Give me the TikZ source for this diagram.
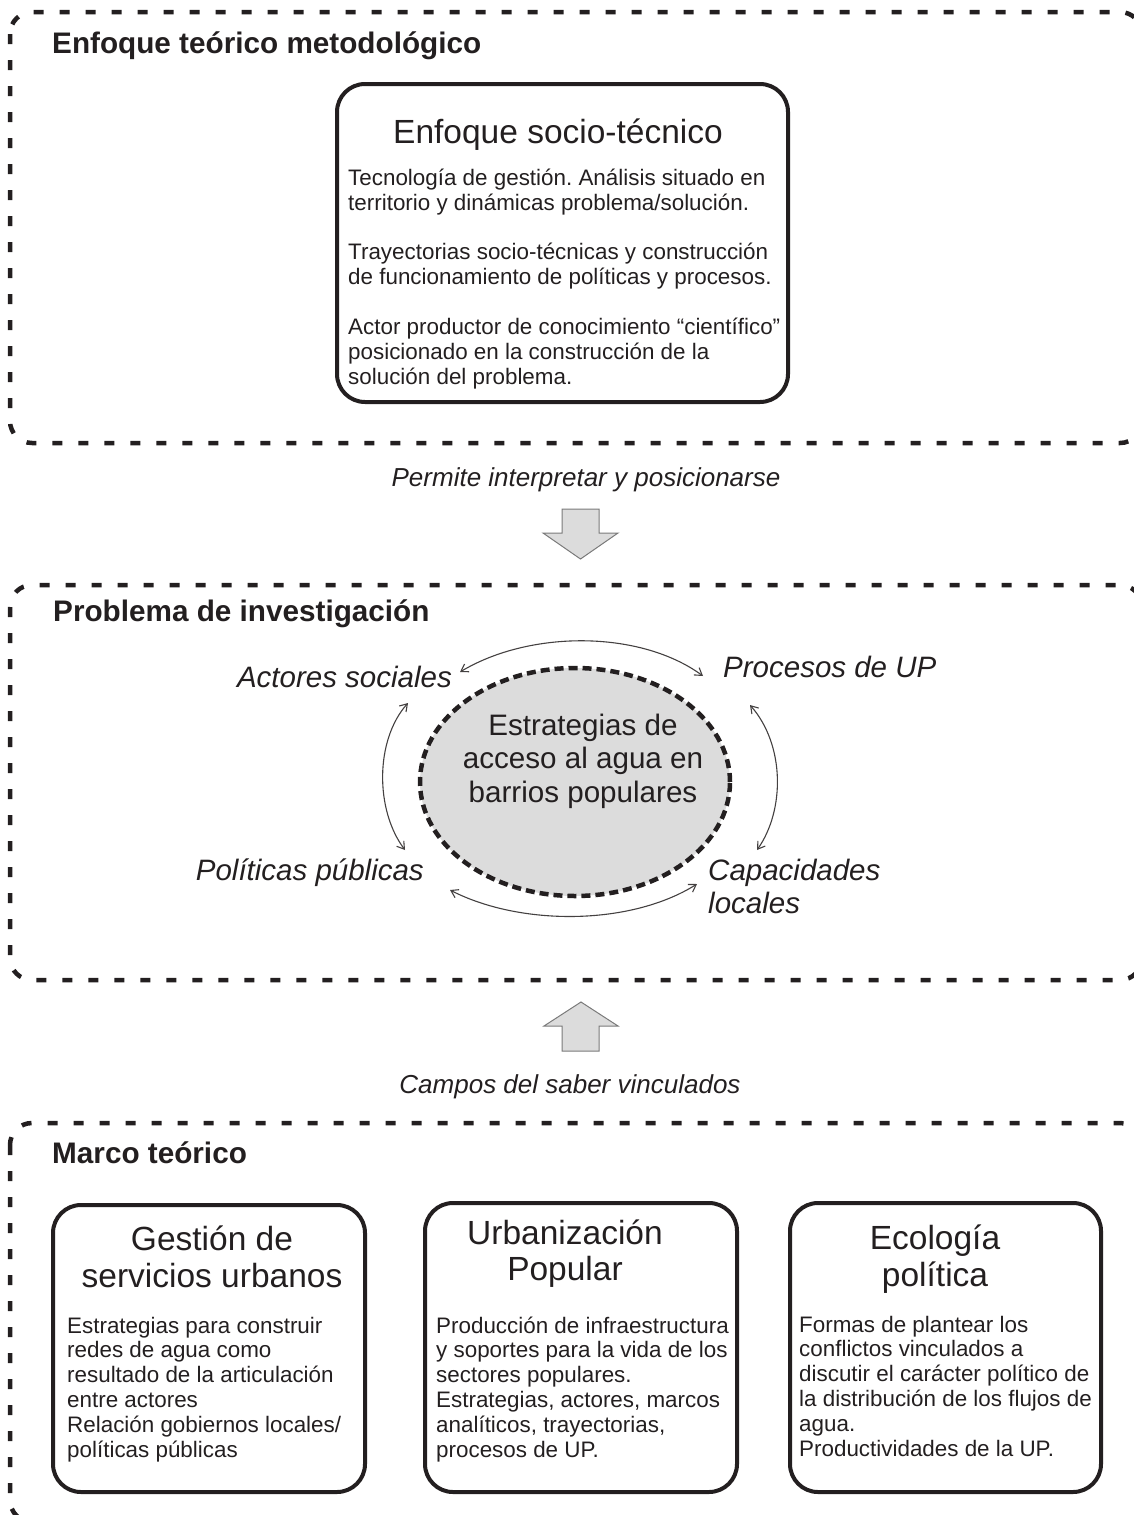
\documentclass[tikz,border=0pt]{standalone}
\usepackage{fontspec}
\setmainfont{Liberation Sans}
\usetikzlibrary{arrows.meta,shapes.geometric}
\definecolor{ink}{HTML}{231F20}
\definecolor{arrowfill}{HTML}{DCDCDC}
\definecolor{arrowline}{HTML}{7A7A7A}
\definecolor{ellfill}{HTML}{DCDCDC}
\frenchspacing
\begin{document}
\begin{tikzpicture}[x=1pt,y=-1pt,
  outerbox/.style={draw=ink,line width=4.5pt,dash pattern=on 10pt off 16pt,rounded corners=22pt},
  innerbox/.style={draw=ink,line width=4pt,rounded corners=28pt,rectangle,inner sep=0pt},
  heading/.style={font=\fontsize{29.7}{34}\selectfont\bfseries,text=ink,anchor=base west,inner sep=0pt},
  boxtitle/.style={font=\fontsize{33.5}{37}\selectfont,text=ink,anchor=base,align=center,inner sep=0pt},
  body/.style={font=\fontsize{22.4}{24.8}\selectfont,text=ink,anchor=base west,align=left,inner sep=0pt},
  linklabel/.style={font=\fontsize{26}{30}\selectfont\itshape,text=ink,anchor=base,inner sep=0pt},
  cyclelabel/.style={font=\fontsize{29.5}{33}\selectfont\itshape,text=ink,inner sep=0pt},
  fatarrow/.style={fill=arrowfill,draw=arrowline,line width=1pt,line join=miter},
  cyclearrow/.style={draw=ink!85,line width=1.1pt,{Straight Barb[length=7pt,width=9pt]}-{Straight Barb[length=7pt,width=9pt]}}
]
\useasboundingbox (0,0) rectangle (1134,1515);
\clip (0,0) rectangle (1134,1515);

% ---------- outer dashed frames ----------
\draw[outerbox] (10,12) rectangle (1142,443);
\draw[outerbox] (10,585) rectangle (1142,980);
\draw[outerbox] (10,1123) rectangle (1142,1522);

% ---------- top section ----------
\node[heading] (h1) at (52,53) {Enfoque teórico metodológico};
\node[innerbox,minimum width=451pt,minimum height=318pt] (ste) at (562.5,243) {};
\node[boxtitle] (steT) at (558,143) {Enfoque socio-técnico};
\node[body] (steB) at (348,384) {Tecnología de gestión. Análisis situado en\\
territorio y dinámicas problema/solución.\\[25pt]
Trayectorias socio-técnicas y construcción\\
de funcionamiento de políticas y procesos.\\[25pt]
Actor productor de conocimiento “científico”\\
posicionado en la construcción de la\\
solución del problema.};

\node[linklabel] (l1) at (586,486) {Permite interpretar y posicionarse};
\draw[fatarrow] (562,509) -- (599,509) -- (599,533) -- (618,533) -- (580.5,559) -- (543,533) -- (562,533) -- cycle;

% ---------- middle section ----------
\node[heading] (h2) at (53,621) {Problema de investigación};
\node[ellipse,draw=ink,line width=4.5pt,dash pattern=on 9pt off 5pt,fill=ellfill,
      minimum width=310pt,minimum height=228pt,inner sep=0pt] (est) at (575,782) {};
\node[boxtitle,font=\fontsize{29.6}{33.5}\selectfont] (estT) at (583,802)
  {Estrategias de\\acceso al agua en\\barrios populares};

\node[cyclelabel,anchor=base east] (act) at (452,687) {Actores sociales};
\node[cyclelabel,anchor=base west] (pro) at (723,677) {Procesos de UP};
\node[cyclelabel,anchor=base east] (pol) at (424,880) {Políticas públicas};
\node[cyclelabel,anchor=base west,align=left] (cap) at (708,913) {Capacidades\\locales};

\coordinate (aR) at (460,672);
\coordinate (pL) at (703,676);
\coordinate (aB) at (408,703);
\coordinate (oT) at (405,850);
\coordinate (pB) at (750,705);
\coordinate (cT) at (757,850);
\coordinate (oR) at (450,890);
\coordinate (cL) at (697,884);
\draw[cyclearrow] (aR) .. controls (530,630) and (640,630) .. (pL);
\draw[cyclearrow] (aB) .. controls (375,740) and (375,810) .. (oT);
\draw[cyclearrow] (pB) .. controls (785,745) and (785,810) .. (cT);
\draw[cyclearrow] (oR) .. controls (520,926) and (630,926) .. (cL);

\draw[fatarrow] (562,1051) -- (599,1051) -- (599,1026) -- (618,1026) -- (581,1002) -- (544,1026) -- (562,1026) -- cycle;
\node[linklabel] (l2) at (570,1093) {Campos del saber vinculados};

% ---------- bottom section ----------
\node[heading] (h3) at (52,1163) {Marco teórico};

\node[innerbox,minimum width=312pt,minimum height=287pt] (gsu) at (209,1348.5) {};
\node[boxtitle] (gsuT) at (212,1287) {Gestión de\\servicios urbanos};
\node[body] (gsuB) at (67,1457) {Estrategias para construir\\
redes de agua como\\
resultado de la articulación\\
entre actores\\
Relación gobiernos locales/\\
políticas públicas};

\node[innerbox,minimum width=312pt,minimum height=289pt] (upo) at (581,1347.5) {};
\node[boxtitle,font=\fontsize{33.5}{35.5}\selectfont] (upoT) at (565,1280) {Urbanización\\Popular};
\node[body] (upoB) at (436,1457) {Producción de infraestructura\\
y soportes para la vida de los\\
sectores populares.\\
Estrategias, actores, marcos\\
analíticos, trayectorias,\\
procesos de UP.};

\node[innerbox,minimum width=311pt,minimum height=289pt] (epo) at (945.5,1347.5) {};
\node[boxtitle] (epoT) at (935,1286) {Ecología\\política};
\node[body] (epoB) at (799,1456) {Formas de plantear los\\
conflictos vinculados a\\
discutir el carácter político de\\
la distribución de los flujos de\\
agua.\\
Productividades de la UP.};
\end{tikzpicture}
\end{document}
